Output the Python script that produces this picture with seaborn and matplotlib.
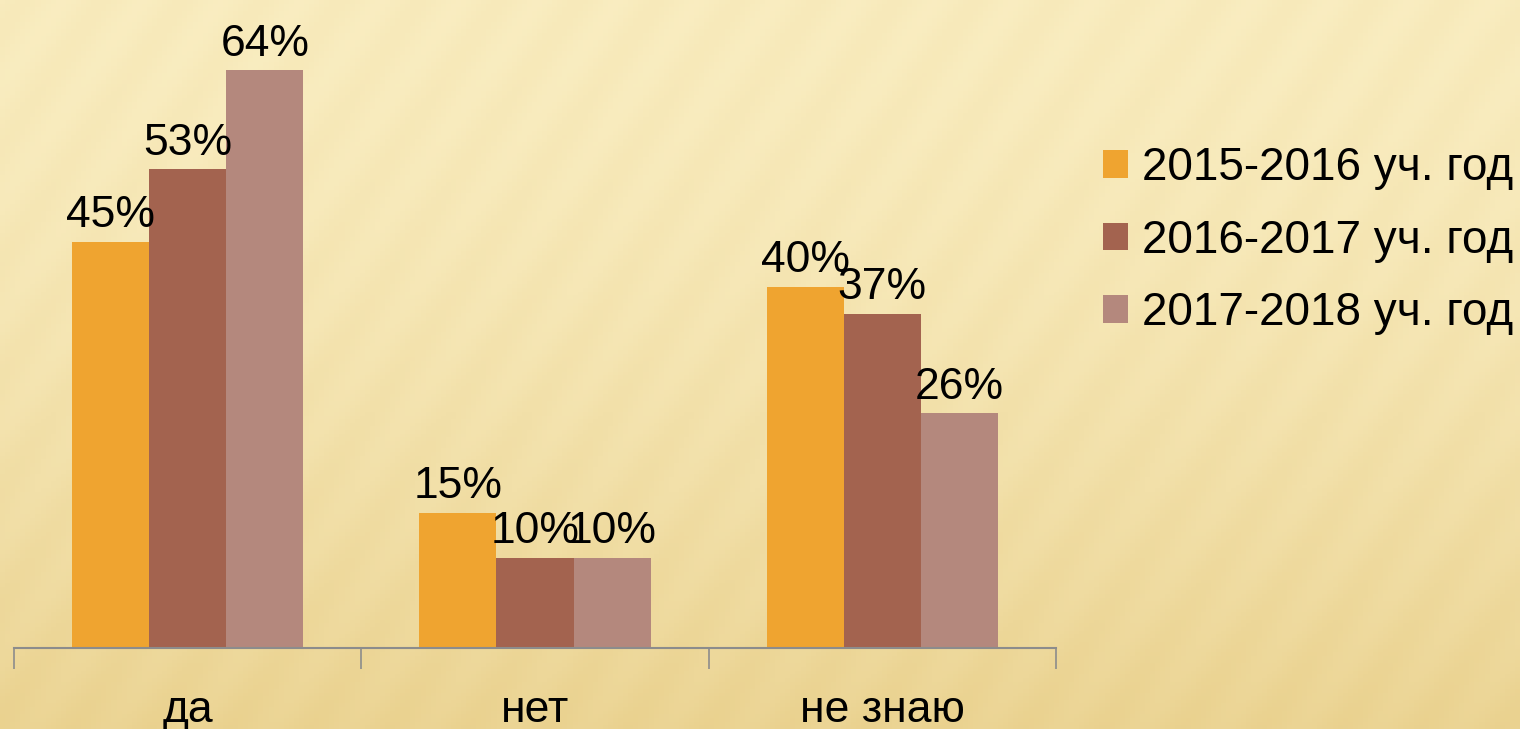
import numpy as np
import pandas as pd
import matplotlib
matplotlib.use("Agg")
import matplotlib.pyplot as plt
import seaborn as sns

categories = ["да", "нет", "не знаю"]
years = ["2015-2016 уч. год", "2016-2017 уч. год", "2017-2018 уч. год"]
values_2016 = [45, 15, 40]
values_2017 = [53, 10, 37]
values_2018 = [64, 10, 26]
colors = ["#EFA430", "#A3634F", "#B4887D"]

df = pd.DataFrame(
    {
        "answer": categories * 3,
        "year": [y for y in years for _ in categories],
        "value": values_2016 + values_2017 + values_2018,
    }
)

sns.set_style("white")
plt.rcParams["font.family"] = ["Liberation Sans", "DejaVu Sans"]
plt.rcParams["text.color"] = "black"
plt.rcParams["xtick.color"] = "black"

fig = plt.figure(figsize=(15.2, 7.29), dpi=100)

# background: warm beige gradient
bg = fig.add_axes([0, 0, 1, 1], zorder=-10)
gy = np.linspace(0, 1, 200)[:, None]
gx = np.linspace(0, 1, 300)[None, :]
light = np.array([251, 240, 198]) / 255
dark = np.array([233, 208, 140]) / 255
t = np.clip(0.15 + 0.75 * gy ** 1.6 + 0.05 * np.sin(gx * 120 + gy * 40), 0, 1)
img = light[None, None, :] * (1 - t[..., None]) + dark[None, None, :] * t[..., None]
bg.imshow(img, aspect="auto", extent=[0, 1, 0, 1], origin="upper")
bg.axis("off")

ax = fig.add_axes([14 / 1520, 81 / 729, 1042 / 1520, 632 / 729])
ax.patch.set_alpha(0)

sns.barplot(
    df,
    x="answer",
    y="value",
    hue="year",
    hue_order=years,
    order=categories,
    palette=colors,
    width=0.666,
    saturation=1,
    linewidth=0,
    edgecolor="none",
    ax=ax,
    legend=True,
)

for cont in ax.containers:
    ax.bar_label(cont, labels=[f"{int(v)}%" for v in cont.datavalues],
                 padding=4, fontsize=32, color="black")

ax.set_ylim(0, 70)
ax.set_xlim(-0.5, 2.5)
ax.set(xlabel="", ylabel="")
ax.set_yticks([])
ax.set_xticks([-0.5, 0.5, 1.5, 2.5], minor=True)
ax.tick_params(axis="x", which="minor", length=15, color="#8C8C8C", width=1.2, bottom=True)
ax.tick_params(axis="x", which="major", length=0, labelsize=32, pad=30, labelcolor="black")
for side in ["top", "right", "left"]:
    ax.spines[side].set_visible(False)
ax.spines["bottom"].set_color("#8C8C8C")
ax.spines["bottom"].set_linewidth(1.5)

handles, labels = ax.get_legend_handles_labels()
ax.legend_.remove()
leg = fig.legend(
    handles,
    labels,
    loc="upper left",
    bbox_to_anchor=(1062 / 1520, 1 - 105 / 729),
    frameon=False,
    fontsize=33,
    handlelength=0.55,
    handleheight=0.55,
    handletextpad=0.3,
    labelspacing=0.62,
)
for txt in leg.get_texts():
    txt.set_color("black")

fig.savefig("out.png", dpi=100)
